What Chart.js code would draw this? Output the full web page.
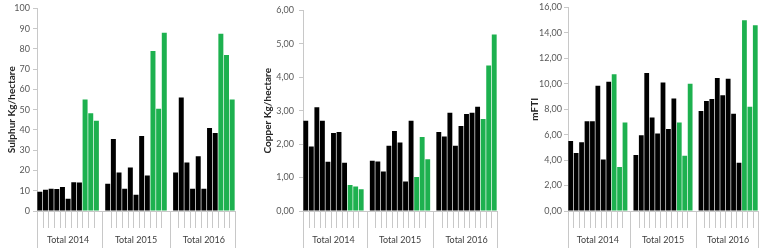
<!DOCTYPE html>
<html><head><meta charset="utf-8">
<script src="https://cdn.jsdelivr.net/npm/chart.js@4/dist/chart.umd.min.js"></script>
<style>
html,body{margin:0;padding:0;background:#fff;width:760px;height:248px;overflow:hidden}
.p{position:absolute;top:0;height:248px}
canvas{display:block}
</style></head><body>
<div class="p" style="left:0;width:250px"><canvas id="c1" width="250" height="248"></canvas></div>
<div class="p" style="left:250px;width:255px"><canvas id="c2" width="255" height="248"></canvas></div>
<div class="p" style="left:505px;width:255px"><canvas id="c3" width="255" height="248"></canvas></div>
<script>
// ---- data ----
const groupLabels = ['Total 2014', 'Total 2015', 'Total 2016'];

const sulphur2014 = [9.5, 10.5, 11, 10.8, 11.8, 6.1, 14.2, 14.1, 55, 48.3, 44.6];
const sulphur2015 = [13.5, 35.5, 19, 11, 21.5, 8, 37, 17.5, 79, 50.5, 88];
const sulphur2016 = [19, 56, 24, 11, 27, 11, 41, 38.5, 87.5, 77, 55];

const copper2014 = [2.70, 1.93, 3.10, 2.70, 1.47, 2.33, 2.36, 1.44, 0.78, 0.73, 0.65];
const copper2015 = [1.50, 1.48, 1.18, 1.95, 2.39, 2.05, 0.88, 2.70, 1.02, 2.21, 1.55];
const copper2016 = [2.36, 2.23, 2.94, 1.95, 2.54, 2.90, 2.94, 3.12, 2.75, 4.35, 5.28];

const mfti2014 = [5.50, 4.55, 5.40, 7.05, 7.05, 9.85, 4.05, 10.15, 10.75, 3.45, 6.95];
const mfti2015 = [4.40, 5.95, 10.85, 7.35, 6.10, 10.10, 6.45, 8.85, 6.95, 4.35, 10.00];
const mfti2016 = [7.85, 8.65, 8.80, 10.45, 9.10, 10.40, 7.65, 3.80, 15.00, 8.20, 14.60];

const yTitles = ['Sulphur Kg/hectare', 'Copper Kg/hectare', 'mFTI'];

// ---- styling ----
const BLACK_PER_GROUP = 8;
const BLACK = '#000000', GREEN = '#1db14f';
const AXIS = '#c8c8c8';
const FONT = 'Lato, "Liberation Sans", sans-serif';

function buildSlots(groups) {
  const data = [], labels = [], colors = [], meta = [];
  groups.forEach((g, gi) => {
    g.forEach((v, i) => {
      data.push(v); labels.push(groupLabels[gi] + ' ' + (i + 1));
      colors.push(i < BLACK_PER_GROUP ? BLACK : GREEN);
      meta.push({g: gi, i: i});
    });
    if (gi < groups.length - 1) {
      data.push(null); labels.push(''); colors.push('rgba(0,0,0,0)'); meta.push({g: gi, gap: true});
    }
  });
  return {data, labels, colors, meta};
}

function groupAxisPlugin(meta) {
  return {
    id: 'groupAxis',
    afterDraw(chart) {
      const ctx = chart.ctx, xs = chart.scales.x, area = chart.chartArea;
      const y0 = area.bottom;
      ctx.save();
      ctx.strokeStyle = AXIS;
      ctx.lineWidth = 1;
      const line = (x, y1) => { ctx.beginPath(); ctx.moveTo(Math.round(x) + 0.5, y0); ctx.lineTo(Math.round(x) + 0.5, y1); ctx.stroke(); };
      for (let k = 0; k < meta.length - 1; k++) {
        if (!meta[k].gap && !meta[k + 1].gap) {
          line((xs.getPixelForValue(k) + xs.getPixelForValue(k + 1)) / 2, y0 + 17);
        }
      }
      line(area.left, 248);
      line(area.right, 248);
      meta.forEach((m, k) => { if (m.gap) line(xs.getPixelForValue(k), 248); });
      ctx.fillStyle = '#404040';
      ctx.font = '9px ' + FONT;
      ctx.textAlign = 'center';
      ctx.textBaseline = 'middle';
      groupLabels.forEach((lab, gi) => {
        const idx = meta.map((m, k) => (!m.gap && m.g === gi) ? k : -1).filter(k => k >= 0);
        const cx = (xs.getPixelForValue(idx[0]) + xs.getPixelForValue(idx[idx.length - 1])) / 2;
        ctx.fillText(lab, cx, 240);
      });
      ctx.restore();
    }
  };
}

function makeChart(id, groups, title, opts) {
  const s = buildSlots(groups);
  const canvas = document.getElementById(id);
  return new Chart(canvas, {
    type: 'bar',
    data: {
      labels: s.labels,
      datasets: [{ data: s.data, backgroundColor: s.colors, borderWidth: 0, barPercentage: 0.88, categoryPercentage: 1 }]
    },
    options: {
      responsive: false, animation: false,
      devicePixelRatio: 1,
      layout: { padding: { left: 0, right: opts.width - opts.plotRight, top: 5, bottom: 0 } },
      plugins: { legend: { display: false }, tooltip: { enabled: false } },
      scales: {
        x: {
          type: 'category',
          ticks: { display: false },
          grid: { display: false },
          border: { display: true, color: AXIS },
          afterFit: sc => { sc.height = 37; }
        },
        y: {
          min: 0, max: opts.max,
          afterFit: sc => { sc.width = opts.plotLeft; },
          border: { display: true, color: AXIS },
          grid: { drawOnChartArea: false, drawTicks: true, tickLength: 4, color: AXIS },
          ticks: {
            stepSize: opts.step, padding: opts.pad, color: '#595959',
            font: { family: FONT, size: 9 },
            callback: v => opts.dec ? v.toFixed(opts.dec).replace('.', ',') : String(v)
          },
          title: {
            display: true, text: title, color: '#262626',
            font: { family: FONT, size: 10, weight: 'bold', lineHeight: 1.2 },
            padding: { top: opts.titleX - 6, bottom: 0 }
          }
        }
      }
    },
    plugins: [groupAxisPlugin(s.meta)]
  });
}

makeChart('c1', [sulphur2014, sulphur2015, sulphur2016], yTitles[0],
  { width: 250, plotLeft: 37, plotRight: 235, max: 100, step: 10, dec: 0, pad: 3, titleX: 12 });
makeChart('c2', [copper2014, copper2015, copper2016], yTitles[1],
  { width: 255, plotLeft: 53, plotRight: 247, max: 6, step: 1, dec: 2, pad: 5, titleX: 18 });
makeChart('c3', [mfti2014, mfti2015, mfti2016], yTitles[2],
  { width: 255, plotLeft: 63, plotRight: 253, max: 16, step: 2, dec: 2, pad: 2, titleX: 30 });
</script>
</body></html>
